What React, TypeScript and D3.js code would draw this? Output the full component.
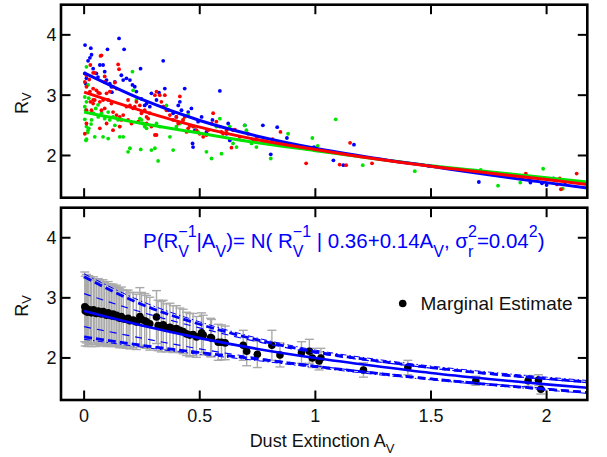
import React from 'react';
import * as d3 from 'd3';

// ---------- data ----------
const xTicks = [0, 0.5, 1, 1.5, 2];
const xTickLabels = ['0', '0.5', '1', '1.5', '2'];
const yTicks = [2, 3, 4];
const yTickLabels = ['2', '3', '4'];

const blueStars: [number, number][] = [
  [0.004, 3.83], [0.029, 3.78], [0.032, 3.67], [0.025, 3.62], [0.017, 3.57], [0.068, 3.5], [0.101, 3.76],
  [0.003, 3.36], [0.01, 3.28], [0.007, 3.19], [0.039, 3.44], [0.053, 3.36], [0.082, 3.5], [0.089, 3.39],
  [0.097, 3.25], [0.111, 3.19], [0.118, 3.14], [0.133, 3.22], [0.151, 3.94], [0.173, 3.76], [0.161, 3.33],
  [0.169, 3.25], [0.183, 3.28], [0.198, 3.25], [0.209, 3.17], [0.219, 3.14], [0.226, 3.06], [0.244, 3.44],
  [0.248, 2.94], [0.262, 2.83], [0.27, 2.86], [0.284, 2.81], [0.291, 3.03], [0.313, 2.92], [0.324, 3.04],
  [0.342, 3.57], [0.349, 3.11], [0.342, 2.81], [0.363, 2.75], [0.385, 2.7], [0.399, 2.64], [0.407, 2.83],
  [0.414, 2.89], [0.421, 2.75], [0.435, 3.11], [0.45, 2.72], [0.464, 2.78], [0.469, 2.2], [0.471, 2.14],
  [0.479, 2.42], [0.493, 2.56], [0.508, 2.64], [0.529, 2.39], [0.555, 2.59], [0.587, 3.07], [0.616, 2.36],
  [0.623, 2.53], [0.63, 2.25], [0.695, 2.5], [0.773, 2.5], [0.807, 2.02], [0.835, 2.47], [0.877, 2.29],
  [0.994, 2.14], [1.078, 1.92], [1.121, 1.84], [1.167, 2.18], [1.49, 1.83], [1.707, 1.56], [1.93, 1.55],
  [1.98, 1.54], [2.0, 1.51], [2.03, 1.62], [2.075, 1.58], [2.08, 1.55], [0.06, 3.3], [0.12, 3.05],
];

const redStars: [number, number][] = [
  [0.071, 3.65], [0.075, 3.66], [0.027, 3.5], [0.039, 3.37], [0.046, 3.37], [0.01, 3.33], [0.022, 3.26],
  [0.003, 3.22], [0.01, 3.14], [0.039, 3.11], [0.025, 3.06], [0.053, 3.08], [0.061, 3.04], [0.068, 3.03],
  [0.089, 3.22], [0.089, 3.31], [0.147, 3.51], [0.151, 3.43], [0.133, 3.21], [0.14, 3.11], [0.125, 3.14],
  [0.111, 3.06], [0.097, 3.03], [0.082, 2.92], [0.068, 2.89], [0.046, 2.92], [0.039, 2.86], [0.032, 2.75],
  [0.01, 2.75], [0.075, 2.75], [0.089, 2.78], [0.104, 2.92], [0.118, 2.86], [0.125, 2.72], [0.14, 2.67],
  [0.154, 2.64], [0.161, 2.59], [0.169, 2.67], [0.183, 2.81], [0.19, 2.92], [0.198, 2.83], [0.212, 2.78],
  [0.219, 2.81], [0.226, 2.89], [0.241, 2.83], [0.248, 2.7], [0.262, 2.75], [0.27, 2.64], [0.277, 2.61],
  [0.284, 2.7], [0.306, 3.0], [0.313, 3.06], [0.327, 3.0], [0.334, 2.89], [0.342, 2.81], [0.349, 3.0],
  [0.356, 2.75], [0.371, 2.67], [0.385, 2.59], [0.399, 2.64], [0.414, 2.98], [0.407, 2.53], [0.428, 2.59],
  [0.435, 2.64], [0.443, 2.39], [0.45, 2.45], [0.457, 2.49], [0.471, 2.48], [0.486, 2.42], [0.5, 2.36],
  [0.515, 2.31], [0.529, 2.34], [0.536, 2.42], [0.551, 2.53], [0.558, 2.7], [0.572, 2.56], [0.587, 2.48],
  [0.594, 2.39], [0.601, 2.36], [0.616, 2.42], [0.637, 2.13], [0.644, 2.42], [0.652, 2.43], [0.673, 2.31],
  [0.709, 2.36], [0.731, 2.25], [0.745, 2.28], [0.003, 2.36], [0.01, 2.53], [0.027, 2.89], [0.039, 2.92],
  [0.068, 2.45], [0.097, 2.53], [0.125, 2.42], [0.154, 2.48], [0.19, 2.59], [0.205, 2.53], [0.234, 2.56],
  [0.27, 2.53], [0.306, 2.34], [0.313, 2.34], [0.291, 2.48], [0.778, 2.24], [0.815, 2.27], [0.849, 2.39],
  [0.96, 1.87], [1.105, 1.85], [1.133, 1.84], [1.15, 2.21], [1.245, 1.87], [1.898, 1.65], [1.91, 1.7],
  [2.045, 1.52], [2.057, 1.62], [2.062, 1.44], [2.13, 1.7],
];

const greenStars: [number, number][] = [
  [0.01, 3.47], [0.017, 3.17], [0.003, 2.97], [0.01, 2.89], [0.003, 2.81], [0.007, 2.75], [0.003, 2.6],
  [0.01, 2.48], [0.017, 2.42], [0.01, 2.27], [0.032, 2.59], [0.046, 2.31], [0.061, 2.64], [0.075, 2.7],
  [0.089, 2.61], [0.082, 2.31], [0.104, 2.28], [0.104, 2.72], [0.111, 2.59], [0.125, 2.64], [0.133, 2.5],
  [0.147, 2.59], [0.154, 2.48], [0.154, 2.31], [0.169, 2.31], [0.19, 2.06], [0.198, 2.12], [0.209, 3.39],
  [0.212, 3.08], [0.226, 2.92], [0.241, 2.61], [0.248, 2.59], [0.255, 2.53], [0.262, 2.48], [0.245, 2.1],
  [0.27, 2.45], [0.291, 2.09], [0.306, 2.12], [0.313, 2.53], [0.32, 1.91], [0.327, 2.48], [0.356, 2.83],
  [0.371, 2.31], [0.385, 2.09], [0.399, 2.48], [0.414, 2.53], [0.428, 2.59], [0.45, 2.67], [0.479, 2.48],
  [0.493, 2.39], [0.529, 2.06], [0.551, 1.95], [0.572, 2.48], [0.587, 2.61], [0.594, 2.03], [0.63, 2.48],
  [0.644, 2.2], [0.659, 2.14], [0.695, 2.5], [0.702, 2.42], [0.724, 2.2], [0.745, 2.14], [0.008, 2.25],
  [0.02, 2.45], [0.015, 2.38], [0.03, 2.52], [0.04, 2.7], [0.05, 2.78], [0.06, 2.84], [0.02, 2.95],
  [0.807, 1.95], [0.882, 2.36], [0.987, 2.29], [1.01, 2.16], [1.088, 2.6], [1.205, 1.84], [1.43, 1.74],
  [1.715, 1.76], [1.79, 1.5], [1.886, 1.55], [1.985, 1.78], [2.07, 1.45],
];

// fitted curves (top panel), read at these extinctions
const curveA = [0, 0.25, 0.5, 0.75, 1, 1.25, 1.5, 1.75, 2, 2.176];
const blueFit = [3.37, 2.93, 2.58, 2.32, 2.12, 1.96, 1.82, 1.68, 1.55, 1.46];
const redFit = [3.05, 2.74, 2.47, 2.26, 2.1, 1.95, 1.82, 1.71, 1.6, 1.52];
const greenFit = [2.72, 2.53, 2.37, 2.21, 2.08, 1.95, 1.83, 1.73, 1.63, 1.56];

// bottom panel model curves
const meanR = [2.78, 2.54, 2.33, 2.15, 2.0, 1.87, 1.75, 1.65, 1.56, 1.505];
const upperR = [3.35, 2.89, 2.56, 2.3, 2.1, 1.96, 1.84, 1.74, 1.655, 1.6];
const lowerR = [2.35, 2.21, 2.09, 1.98, 1.86, 1.75, 1.65, 1.56, 1.48, 1.425];
const innerUpperR = [3.07, 2.76, 2.5, 2.27, 2.08, 1.945, 1.83, 1.73, 1.645, 1.59];
const innerLowerR = [2.52, 2.33, 2.15, 2.0, 1.87, 1.76, 1.66, 1.57, 1.49, 1.435];
const dashDotUpperR = [3.4, 2.94, 2.6, 2.33, 2.13, 1.985, 1.865, 1.765, 1.68, 1.625];
const dashDotLowerR = [2.31, 2.18, 2.06, 1.955, 1.84, 1.73, 1.635, 1.545, 1.465, 1.41];

// marginal estimates: [A_V, R_V, error half-width]
const marginal: [number, number, number][] = [
  [0.003, 2.85, 0.58], [0.005, 2.78, 0.58], [0.01, 2.82, 0.57], [0.015, 2.76, 0.57], [0.02, 2.8, 0.57],
  [0.027, 2.79, 0.56], [0.032, 2.75, 0.56], [0.04, 2.8, 0.55], [0.046, 2.77, 0.55], [0.053, 2.74, 0.55],
  [0.061, 2.78, 0.54], [0.068, 2.76, 0.54], [0.075, 2.73, 0.53], [0.082, 2.77, 0.53], [0.089, 2.74, 0.52],
  [0.097, 2.71, 0.52], [0.104, 2.75, 0.52], [0.111, 2.72, 0.51], [0.118, 2.7, 0.51], [0.125, 2.73, 0.5],
  [0.133, 2.69, 0.5], [0.14, 2.71, 0.5], [0.147, 2.68, 0.49], [0.154, 2.66, 0.49], [0.161, 2.69, 0.49],
  [0.169, 2.65, 0.48], [0.183, 2.64, 0.48], [0.19, 2.66, 0.47], [0.198, 2.62, 0.47], [0.212, 2.63, 0.46],
  [0.226, 2.6, 0.46], [0.241, 2.69, 0.48], [0.248, 2.64, 0.45], [0.262, 2.62, 0.45], [0.27, 2.6, 0.44],
  [0.284, 2.57, 0.44], [0.313, 2.68, 0.44], [0.32, 2.54, 0.42], [0.334, 2.52, 0.42], [0.342, 2.55, 0.41],
  [0.356, 2.5, 0.4], [0.371, 2.51, 0.4], [0.385, 2.48, 0.39], [0.399, 2.49, 0.38], [0.414, 2.46, 0.37],
  [0.428, 2.44, 0.37], [0.443, 2.4, 0.36], [0.457, 2.38, 0.36], [0.471, 2.39, 0.35], [0.486, 2.35, 0.34],
  [0.508, 2.42, 0.33], [0.515, 2.38, 0.33], [0.547, 2.34, 0.32], [0.551, 2.33, 0.31], [0.58, 2.26, 0.3],
  [0.594, 2.26, 0.29], [0.61, 2.25, 0.28], [0.688, 2.21, 0.25], [0.703, 2.11, 0.24], [0.749, 2.06, 0.22],
  [0.812, 2.21, 0.25], [0.847, 2.05, 0.2], [0.94, 2.09, 0.18], [0.974, 2.11, 0.2], [0.987, 2.0, 0.16],
  [1.016, 1.95, 0.15], [1.024, 2.0, 0.16], [1.208, 1.8, 0.12], [1.4, 1.84, 0.12], [1.694, 1.62, 0.075],
  [1.92, 1.62, 0.09], [1.965, 1.63, 0.09], [1.975, 1.48, 0.08],
];

const legendLabel = 'Marginal Estimate';
const xLabel = 'Dust Extinction A';

// ---------- layout ----------
const W = 607;
const H = 457;
const L = 61;
const R = 587.3;
const topPanel = { t: 4.7, b: 197.7 };
const botPanel = { t: 207.7, b: 400 };
const FONT = 'Liberation Sans, Arial, Helvetica, sans-serif';
const BLUE = '#0000ff';
const RED = '#ff0000';
const GREEN = '#00e400';

const x = d3.scaleLinear().domain([-0.1, 2.176]).range([L, R]);
const yTop = d3.scaleLinear().domain([1.3, 4.5]).range([topPanel.b, topPanel.t]);
const yBot = d3.scaleLinear().domain([1.3, 4.5]).range([botPanel.b, botPanel.t]);

function makeLine(y: d3.ScaleLinear<number, number>, vals: number[]) {
  const pts: [number, number][] = curveA.map((a, i) => [a, vals[i]]);
  return d3
    .line<[number, number]>()
    .x((d) => x(d[0]))
    .y((d) => y(d[1]))
    .curve(d3.curveMonotoneX)(pts) as string;
}

function Frame({ y, t, b }: { y: d3.ScaleLinear<number, number>; t: number; b: number }) {
  const tl = 9.5;
  return (
    <g>
      {xTicks.map((v) => (
        <g key={'xt' + v}>
          <line x1={x(v)} x2={x(v)} y1={b} y2={b - tl} stroke="#000" strokeWidth={2} />
          <line x1={x(v)} x2={x(v)} y1={t} y2={t + tl} stroke="#000" strokeWidth={2} />
        </g>
      ))}
      {yTicks.map((v, i) => (
        <g key={'yt' + v}>
          <line x1={L} x2={L + tl} y1={y(v)} y2={y(v)} stroke="#000" strokeWidth={2} />
          <line x1={R} x2={R - tl} y1={y(v)} y2={y(v)} stroke="#000" strokeWidth={2} />
          <text x={L - 4.5} y={y(v)} dy="0.36em" textAnchor="end" fontSize={18} fontFamily={FONT} fill="#111">
            {yTickLabels[i]}
          </text>
        </g>
      ))}
      <rect x={L} y={t} width={R - L} height={b - t} fill="none" stroke="#000" strokeWidth={2.6} />
      <text
        transform={`translate(27.5,${(t + b) / 2 + 2}) rotate(-90)`}
        textAnchor="middle"
        fontSize={18}
        fontFamily={FONT}
        fill="#111"
      >
        R<tspan fontSize={13} dy={3}>V</tspan>
      </text>
    </g>
  );
}

export default function App() {
  const clipW = R - L;
  const SUB = 16;
  return (
    <svg width={W} height={H} style={{ position: 'absolute', left: 0, top: 0, background: '#fff' }}>
      <defs>
        <clipPath id="clipTop">
          <rect x={L} y={topPanel.t} width={clipW} height={topPanel.b - topPanel.t} />
        </clipPath>
        <clipPath id="clipBot">
          <rect x={L} y={botPanel.t} width={clipW} height={botPanel.b - botPanel.t} />
        </clipPath>
      </defs>

      {/* ---------- top panel ---------- */}
      <g clipPath="url(#clipTop)">
        {blueStars.map((d, i) => (
          <circle key={'b' + i} cx={x(d[0])} cy={yTop(d[1])} r={1.9} fill={BLUE} />
        ))}
        {greenStars.map((d, i) => (
          <circle key={'g' + i} cx={x(d[0])} cy={yTop(d[1])} r={1.9} fill={GREEN} />
        ))}
        {redStars.map((d, i) => (
          <circle key={'r' + i} cx={x(d[0])} cy={yTop(d[1])} r={1.9} fill={RED} />
        ))}
        <path d={makeLine(yTop, greenFit)} fill="none" stroke={GREEN} strokeWidth={3} />
        <path d={makeLine(yTop, blueFit)} fill="none" stroke={BLUE} strokeWidth={3} />
        <path d={makeLine(yTop, redFit)} fill="none" stroke={RED} strokeWidth={3} />
      </g>
      <Frame y={yTop} t={topPanel.t} b={topPanel.b} />

      {/* ---------- bottom panel ---------- */}
      <g clipPath="url(#clipBot)">
        {marginal.map((d, i) => {
          const cx = x(d[0]);
          const y1 = yBot(d[1] + d[2]);
          const y2 = yBot(d[1] - d[2]);
          return (
            <g key={'e' + i} stroke="#aaaaaa" strokeWidth={1.4}>
              <line x1={cx} x2={cx} y1={y1} y2={y2} />
              <line x1={cx - 4.5} x2={cx + 4.5} y1={y1} y2={y1} />
              <line x1={cx - 4.5} x2={cx + 4.5} y1={y2} y2={y2} />
            </g>
          );
        })}
        {marginal.map((d, i) => (
          <circle key={'m' + i} cx={x(d[0])} cy={yBot(d[1])} r={3.8} fill="#000" />
        ))}
        <path d={makeLine(yBot, innerUpperR)} fill="none" stroke={BLUE} strokeWidth={1.2} strokeDasharray="7,6" />
        <path d={makeLine(yBot, innerLowerR)} fill="none" stroke={BLUE} strokeWidth={1.2} strokeDasharray="7,6" />
        <path d={makeLine(yBot, dashDotUpperR)} fill="none" stroke={BLUE} strokeWidth={1} strokeDasharray="6,3,1.5,3" />
        <path d={makeLine(yBot, dashDotLowerR)} fill="none" stroke={BLUE} strokeWidth={1} strokeDasharray="6,3,1.5,3" />
        <path d={makeLine(yBot, upperR)} fill="none" stroke={BLUE} strokeWidth={2.8} strokeDasharray="8,4" />
        <path d={makeLine(yBot, lowerR)} fill="none" stroke={BLUE} strokeWidth={2.8} strokeDasharray="8,4" />
        <path d={makeLine(yBot, meanR)} fill="none" stroke={BLUE} strokeWidth={2.6} />
      </g>
      <Frame y={yBot} t={botPanel.t} b={botPanel.b} />

      {/* equation */}
      <text x={143} y={248} fontSize={20.5} fontFamily={FONT} fill={BLUE}>
        {'P(R'}
        <tspan fontSize={SUB} dy={9}>V</tspan>
        <tspan fontSize={SUB} dx={-10.7} dy={-20}>{'\u22121'}</tspan>
        <tspan dy={11}>{'|A'}</tspan>
        <tspan fontSize={SUB} dy={9}>V</tspan>
        <tspan dy={-9}>{')= N( R'}</tspan>
        <tspan fontSize={SUB} dy={9}>V</tspan>
        <tspan fontSize={SUB} dx={-10.7} dy={-20}>{'\u22121'}</tspan>
        <tspan dy={11}>{' | 0.36+0.14A'}</tspan>
        <tspan fontSize={SUB} dy={9}>V</tspan>
        <tspan dy={-9}>{', \u03c3'}</tspan>
        <tspan fontSize={SUB} dy={9}>r</tspan>
        <tspan fontSize={SUB} dx={-5.3} dy={-20}>2</tspan>
        <tspan dy={11}>{'=0.04'}</tspan>
        <tspan fontSize={SUB} dy={-11}>2</tspan>
        <tspan dy={11}>{')'}</tspan>
      </text>

      {/* legend */}
      <circle cx={402.7} cy={303.5} r={3.8} fill="#000" />
      <text x={420.5} y={310} fontSize={19} fontFamily={FONT} fill="#111">
        {legendLabel}
      </text>

      {/* x tick labels & label */}
      {xTicks.map((v, i) => (
        <text key={'xl' + v} x={x(v)} y={421.5} textAnchor="middle" fontSize={18} fontFamily={FONT} fill="#111">
          {xTickLabels[i]}
        </text>
      ))}
      <text x={322} y={446.5} textAnchor="middle" fontSize={18} fontFamily={FONT} fill="#111">
        {xLabel}
        <tspan fontSize={13} dy={6}>V</tspan>
      </text>
    </svg>
  );
}
